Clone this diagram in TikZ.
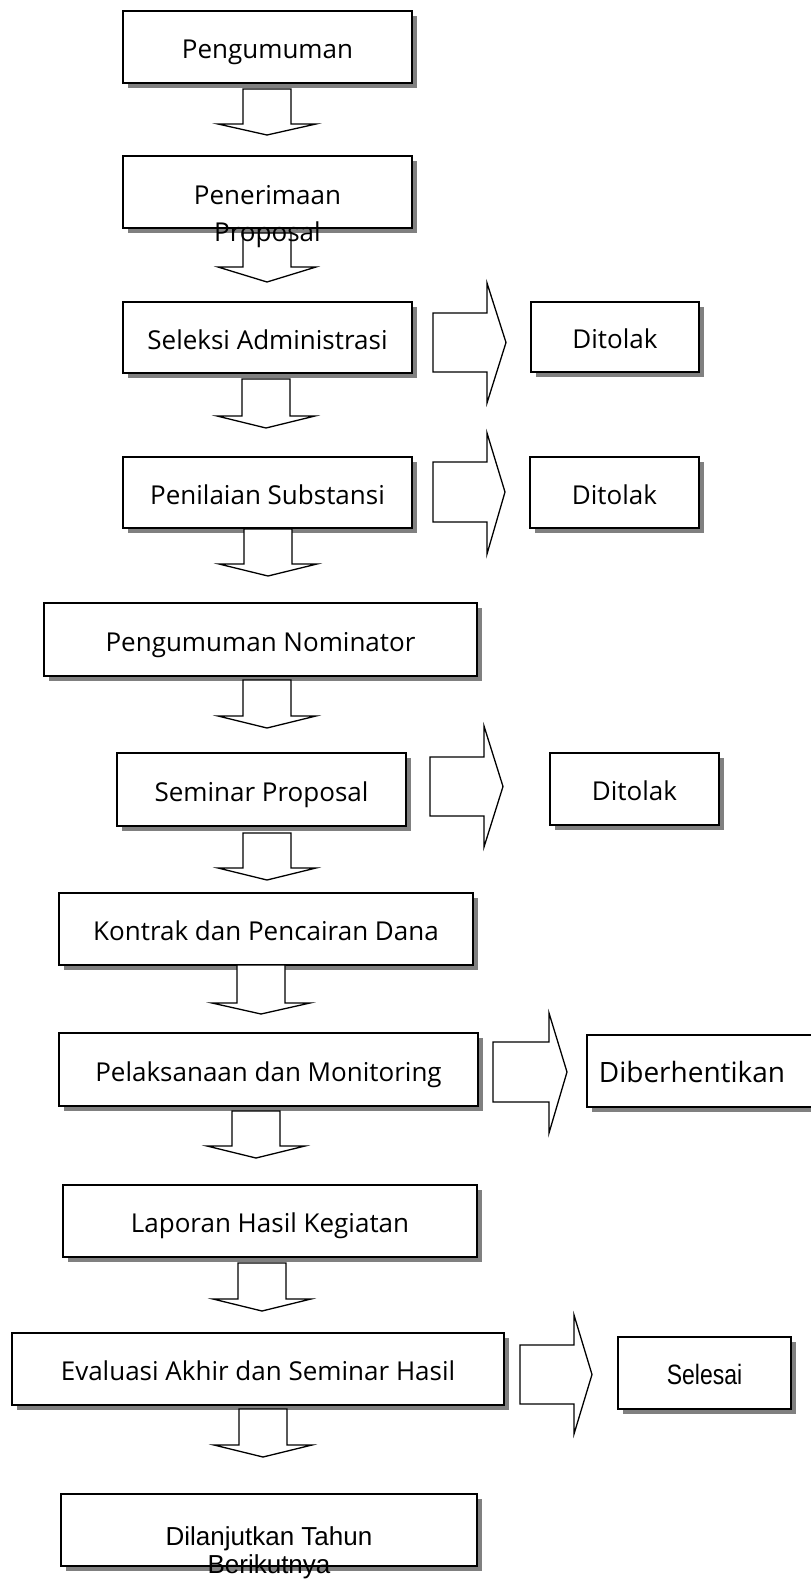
\documentclass[tikz,border=0pt]{standalone}
\usepackage{fontspec}
\setmainfont{Open Sans}
\newfontfamily\arialfont{Liberation Sans}
\newfontfamily\narrowfont[FakeStretch=0.82]{Liberation Sans}
\usetikzlibrary{shadows}
\newcommand\mainsz{\fontsize{26}{31}\selectfont}
\newcommand\arialsz{\arialfont\fontsize{26}{31}\selectfont}
\newcommand\narrowsz{\narrowfont\fontsize{28}{33}\selectfont}
\tikzset{
  boxstyle/.style={draw, line width=1.8pt, fill=white, rectangle, inner sep=0pt,
    drop shadow={shadow xshift=5pt, shadow yshift=-5pt, fill=black!50, opacity=1},
    font=\mainsz, text height=26pt, text depth=3pt},
  blk/.style={draw, line width=1.3pt, fill=white, line join=miter},
  txt/.style={inner sep=0pt, font=\mainsz},
}
% down block arrow: centre x, top, head base, tip
\newcommand\dnarrow[4]{%
  \draw[blk] (#1-24,#2) -- (#1-24,#3) -- (#1-49,#3) -- (#1,#4) -- (#1+49,#3)
    -- (#1+24,#3) -- (#1+24,#2) -- cycle;}
% right block arrow: shaft left, shaft top, shaft bottom, head base x, head top, head bottom, tip x
\newcommand\rtarrow[7]{%
  \draw[blk] (#1,#2) -- (#4,#2) -- (#4,#5) -- (#7,{(#2+#3)/2}) -- (#4,#6)
    -- (#4,#3) -- (#1,#3) -- cycle;}
\begin{document}
\begin{tikzpicture}[x=1pt, y=-1pt]
\useasboundingbox (0,0) rectangle (811,1580);
\clip (0,0) rectangle (811,1580);

% main column
\node[boxstyle, minimum width=289pt, minimum height=72pt] (b1) at (267.5,47) {Pengumuman};
\node[boxstyle, minimum width=289pt, minimum height=72pt] (b2) at (267.5,192) {};
\node[boxstyle, minimum width=289pt, minimum height=71pt] (b3) at (267.5,337.5) {Seleksi Administrasi};
\node[boxstyle, minimum width=289pt, minimum height=71pt] (b4) at (267.5,492.5) {Penilaian Substansi};
\node[boxstyle, minimum width=433pt, minimum height=73pt] (b5) at (260.5,639.5) {Pengumuman Nominator};
\node[boxstyle, minimum width=289pt, minimum height=73pt] (b6) at (261.5,789.5) {Seminar Proposal};
\node[boxstyle, minimum width=414pt, minimum height=72pt] (b7) at (266,929) {Kontrak dan Pencairan Dana};
\node[boxstyle, minimum width=419pt, minimum height=73pt] (b8) at (268.5,1069.5) {Pelaksanaan dan Monitoring};
\node[boxstyle, minimum width=414pt, minimum height=72pt] (b9) at (270,1221) {Laporan Hasil Kegiatan};
\node[boxstyle, minimum width=492pt, minimum height=72pt] (b10) at (258,1369) {Evaluasi Akhir dan Seminar Hasil};
\node[boxstyle, minimum width=416pt, minimum height=72pt] (b11) at (269,1530) {};

% side boxes
\node[boxstyle, minimum width=168pt, minimum height=70pt] (d1) at (615,337) {Ditolak};
\node[boxstyle, minimum width=169pt, minimum height=71pt] (d2) at (614.5,492.5) {Ditolak};
\node[boxstyle, minimum width=169pt, minimum height=72pt] (d3) at (634.5,789) {Ditolak};
\node[boxstyle, minimum width=260pt, minimum height=72pt] (d4) at (717,1071) {};
\node[boxstyle, minimum width=173pt, minimum height=72pt, font=\narrowsz] (d5) at (704.5,1373) {Selesai};

% down arrows
\dnarrow{267}{89}{124}{135}
\dnarrow{267}{233}{267}{282}
\dnarrow{266}{379}{416}{428}
\dnarrow{268}{529}{564}{576}
\dnarrow{267}{680}{716}{728}
\dnarrow{267}{833}{868}{880}
\dnarrow{261}{965}{1003}{1014}
\dnarrow{256}{1111}{1146}{1158}
\dnarrow{262}{1263}{1299}{1311}
\dnarrow{263}{1409}{1445}{1457}

% right arrows
\rtarrow{433}{313}{372}{487}{283}{403}{506}
\rtarrow{433}{462}{522}{487}{433}{554}{505}
\rtarrow{430}{757}{816}{484}{726}{847}{503}
\rtarrow{493}{1042}{1102}{549}{1013}{1133}{567}
\rtarrow{520}{1345}{1404}{574}{1315}{1434}{592}

% overflowing texts
\node[txt, anchor=base] (t2a) at (267.5,204) {Penerimaan};
\node[txt, anchor=base] (t2b) at (267.5,241) {Proposal};
\node[txt, anchor=base, font=\fontsize{28}{33}\selectfont] (t4) at (692,1082) {Diberhentikan};
\node[inner sep=0pt, anchor=base, font=\arialsz] (t11a) at (269,1545) {Dilanjutkan Tahun};
\node[inner sep=0pt, anchor=base, font=\arialsz] (t11b) at (269,1573) {Berikutnya};
\end{tikzpicture}
\end{document}
